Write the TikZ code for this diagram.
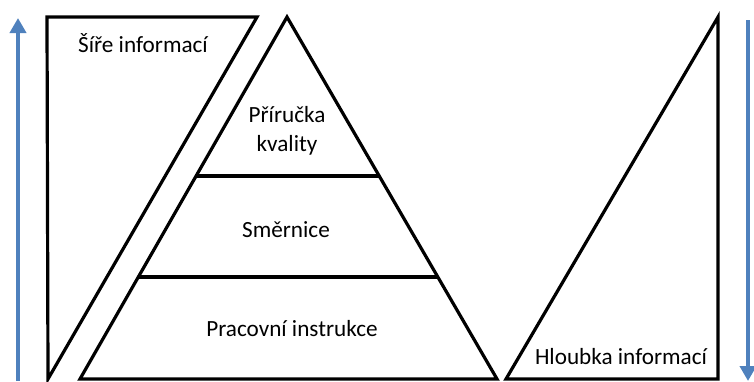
\documentclass[tikz,border=0pt]{standalone}
\usepackage{fontspec}
\setmainfont{Carlito}
\usetikzlibrary{arrows.meta,calc}
\definecolor{Ink}{HTML}{000000}
\definecolor{Flow}{HTML}{4F81BD}
\tikzset{
 outline/.style={draw=Ink, line width=1.6pt, line join=miter},
 txt/.style={align=center, inner sep=0pt, font=\fontsize{11.6}{14.3}\selectfont},
 flowarrow/.style={-{Triangle[width=8pt,length=7.5pt]}, line width=2pt, draw=Flow}
}
\begin{document}
\begin{tikzpicture}[x=0.5pt,y=-0.5pt]
\useasboundingbox (0,0) rectangle (754,381);
% corner points
\coordinate (wtl) at (47,17);
\coordinate (wtr) at (257,17);
\coordinate (wbl) at (48,379);
\coordinate (apex) at (287,17);
\coordinate (pbl) at (80,379);
\coordinate (pbr) at (497,379);
\coordinate (dtop) at (718,17);
\coordinate (dbl) at (506,379);
\coordinate (dbr) at (718,379);
% shapes
\draw[outline] (wtl) -- (wtr) -- (wbl) -- cycle;
\draw[outline] (apex) -- (pbr) -- (pbl) -- cycle;
\draw[outline] ($(apex)!0.439!(pbl)$) -- ($(apex)!0.439!(pbr)$);
\draw[outline] ($(apex)!0.718!(pbl)$) -- ($(apex)!0.718!(pbr)$);
\draw[outline] (dtop) -- (dbr) -- (dbl) -- cycle;
% flow arrows
\coordinate (upfrom) at (18,381);
\coordinate (upto) at (18,18);
\coordinate (downfrom) at (748,20);
\coordinate (downto) at (748,381);
\draw[flowarrow] (upfrom) -- (upto);
\draw[flowarrow] (downfrom) -- (downto);
% texts
\node[txt] (width) at (143,43) {Šíře informací};
\node[txt] (manual) at (287,131) {Příručka\\kvality};
\node[txt] (rules) at (286,230) {Směrnice};
\node[txt] (work) at (292,329) {Pracovní instrukce};
\node[txt] (depth) at (621,357) {Hloubka informací};
\end{tikzpicture}
\end{document}
